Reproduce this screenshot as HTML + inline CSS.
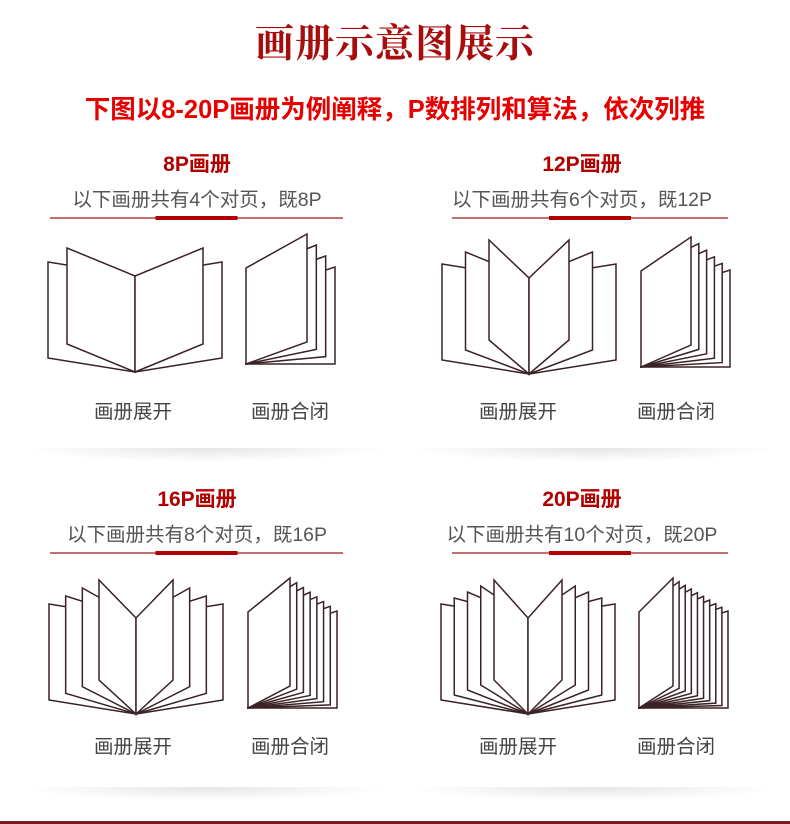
<!DOCTYPE html><html><head><meta charset="utf-8"><style>
body{margin:0;background:#fff;width:790px;height:824px;position:relative;overflow:hidden;font-family:"Liberation Sans","Noto Sans CJK SC",sans-serif}
.t{position:absolute;white-space:nowrap;transform:translateX(-50%)}
.sh{position:absolute;height:14px;background:radial-gradient(ellipse at 50% 0%,rgba(0,0,0,0.10),rgba(0,0,0,0) 70%)}
</style></head><body>
<div class="t" style="left:395px;top:13px;font-size:39px;color:#a80d0d;font-family:'Noto Serif CJK SC',serif;font-weight:bold;letter-spacing:1px">画册示意图展示</div>
<div class="t" style="left:395px;top:89px;font-size:25.5px;color:#e60000;font-weight:bold">下图以8-20P画册为例阐释，P数排列和算法，依次列推</div>
<div class="sh" style="left:20px;top:448px;width:370px"></div><div class="sh" style="left:405px;top:448px;width:375px"></div>
<div class="sh" style="left:20px;top:787px;width:370px"></div><div class="sh" style="left:405px;top:787px;width:375px"></div>
<div style="position:absolute;left:0;top:821px;width:790px;height:3px;background:#7a1c1c"></div>
<svg id="s" width="790" height="824" style="position:absolute;left:0;top:0"></svg>
<div id="txt"></div>
<script>
var s=document.getElementById('s'),h='',T='';
var C='#3a2226';
function poly(p){h+='<polygon points="'+p.map(function(a){return a.join(',')}).join(' ')+'" fill="#fff" stroke="'+C+'" stroke-width="1.5" stroke-linejoin="miter"/>';}
function openBook(cx,by,n,idx,itop,ibot){
 for(var i=0;i<n;i++){var f=n==1?1:i/(n-1);
  var dx=87+(idx-87)*f,yt=by-110+(itop+110)*f,yb=by-14+(ibot+14)*f;
  poly([[cx,by],[cx-dx,yb],[cx-dx,yt],[cx,by-96]]);
  poly([[cx,by],[cx+dx,yb],[cx+dx,yt],[cx,by-96]]);
 }}
function closedBook(x0,yB,n,fw){
 for(var i=n-1;i>=0;i--){var f=i/(n-1);
  var xr=x0+fw+(89-fw)*f,yt=yB-130+33*f,yb=yB-22+22*f;
  if(i==0)poly([[x0,yB],[xr,yb],[xr,yt],[x0,yB-96]]);
  else poly([[x0,yB],[xr,yb],[xr,yt],[x0+(xr-x0)*0.3,yt+20]]);
 }}
openBook(135,372,2,68,-124,-28);closedBook(246,364,4,61);
openBook(529,374,3,40,-134,-34);closedBook(641,367,6,50);
openBook(136,714,4,37,-134,-34);closedBook(248,708,8,42);
openBook(528,714,5,34,-134,-34);closedBook(639,708,10,34);
function sec(cx,y,p,n,l1,l2){
 T+='<div class="t" style="left:'+cx+'px;top:'+(y-14)+'px;font-size:21px;color:#b00000;font-weight:bold">'+p+'画册</div>';
 T+='<div class="t" style="left:'+cx+'px;top:'+(y+21)+'px;font-size:19.5px;color:#555">以下画册共有'+n+'个对页，既'+p+'</div>';
 h+='<line x1="'+l1+'" y1="'+(y+56)+'" x2="'+l2+'" y2="'+(y+56)+'" stroke="#a51616" stroke-width="1.2"/>';
 var m=(l1+l2)/2;h+='<rect x="'+(m-41)+'" y="'+(y+54)+'" width="82" height="4" fill="#b00000"/>';
}
sec(197,162,'8P',4,50,343);sec(582,162,'12P',6,452,728);
sec(197,497,'16P',8,50,343);sec(582,497,'20P',10,452,728);
function lab(x,y,t){T+='<div class="t" style="left:'+x+'px;top:'+(y-13)+'px;font-size:19.5px;color:#444">'+t+'</div>';}
lab(133,408,'画册展开');lab(290,408,'画册合闭');lab(518,408,'画册展开');lab(676,408,'画册合闭');
lab(133,743,'画册展开');lab(290,743,'画册合闭');lab(518,743,'画册展开');lab(676,743,'画册合闭');
s.innerHTML=h;document.getElementById('txt').innerHTML=T;
</script></body></html>
